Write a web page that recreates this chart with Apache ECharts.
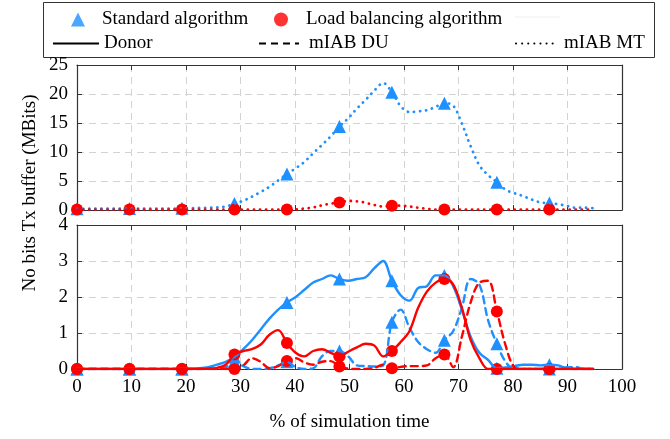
<!DOCTYPE html>
<html>
<head>
<meta charset="utf-8">
<script src="https://cdn.jsdelivr.net/npm/echarts@6/dist/echarts.min.js"></script>
<style>html,body{margin:0;padding:0;background:#fff}#c{width:670px;height:439px}</style>
</head>
<body>
<div id="c"></div>
<script>
// x positions (% of simulation time) of the samples
const xs = [0.00,1.61,3.21,4.82,6.42,8.03,9.63,11.24,12.84,14.45,16.05,17.66,19.26,20.87,22.47,24.08,25.68,27.29,28.89,30.50,
  32.10,33.71,35.31,36.92,38.52,40.13,41.73,43.34,44.94,46.55,48.15,49.76,51.36,52.97,54.57,56.18,57.78,59.39,60.99,62.60,
  64.20,65.81,67.41,69.02,70.62,72.23,73.83,75.44,77.04,78.65,80.25,81.86,83.46,85.07,86.67,88.28,89.88,91.49,93.09,94.70];

// Top panel: mIAB MT buffer (MBits)
const stdMT = [0.2,0.2,0.25,0.25,0.25,0.25,0.25,0.25,0.25,0.25,0.25,0.25,0.3,0.3,0.35,0.4,0.45,0.6,1.1,1.6,
  2.3,3.1,4.0,5.1,6.2,7.2,8.3,9.8,11.2,12.7,14.4,15.8,17.5,19.0,20.6,21.9,20.3,17.9,16.9,17.0,
  17.2,17.8,18.4,18.0,14.9,11.0,7.7,6.0,4.8,3.5,2.9,2.4,1.8,1.3,1.2,1.0,0.7,0.4,0.4,0.3];
const lbMT = [0.08,0.08,0.08,0.08,0.08,0.08,0.08,0.08,0.08,0.08,0.08,0.08,0.08,0.08,0.08,0.08,0.08,0.08,0.08,0.08,
  0.08,0.08,0.08,0.08,0.08,0.1,0.25,0.45,0.8,1.1,1.3,1.55,1.5,1.25,0.85,0.6,0.75,0.75,0.6,0.4,
  0.2,0.08,0.08,0.08,0.08,0.08,0.08,0.08,0.08,0.08,0.08,0.08,0.08,0.08,0.08,0.08,0.08,0.08,0.08,0.08];

// Bottom panel: Donor and mIAB DU buffers (MBits)
const stdDonor = [0,0,0,0,0,0,0,0,0,0,0,0,0,0.01,0.02,0.05,0.12,0.2,0.33,0.55,
  0.8,1.1,1.4,1.65,1.85,2.0,2.2,2.4,2.5,2.6,2.5,2.45,2.5,2.55,2.8,3.0,2.45,2.05,1.9,2.25,
  2.3,2.6,2.6,2.3,1.65,0.9,0.45,0.25,0.02,0.04,0.08,0.12,0.12,0.1,0.12,0.1,0.02,0,0,0];
const stdDU = [0,0,0,0,0,0,0,0,0,0,0,0,0,0,0,0,0,0.05,0.2,0.08,
  0,0,0.02,0.1,0.2,0.05,0,0.02,0.35,0.5,0.5,0.35,0.1,0.08,0.07,0.1,1.3,1.65,1.15,0.75,
  0.55,0.45,0.8,1.05,1.7,2.5,2.35,1.35,0.7,0.2,0,0,0,0,0,0,0.05,0.05,0,0];
const lbDonor = [0,0,0,0,0,0,0,0,0,0,0,0,0,0,0,0.01,0.03,0.12,0.4,0.5,
  0.55,0.68,0.95,1.08,0.72,0.45,0.35,0.5,0.55,0.45,0.35,0.48,0.6,0.7,0.65,0.35,0.5,0.75,1.05,1.7,
  2.15,2.4,2.5,2.35,1.7,0.8,0.3,0,0,0,0,0,0,0,0,0,0,0,0,0];
const lbDU = [0,0,0,0,0,0,0,0,0,0,0,0,0,0,0,0,0,0,0,0.1,
  0.3,0.2,0.02,0.08,0.22,0.3,0.18,0.12,0.2,0.22,0.07,0.01,0,0,0.03,0.12,0.02,0.06,0.08,0.08,
  0.1,0.3,0.4,0.05,0.9,1.85,2.4,2.45,1.6,0.65,0.05,0,0,0,0,0,0,0,0,0];

const xTicks = [0,10,20,30,40,50,60,70,80,90,100];
const yTopTicks = [0,5,10,15,20,25];
const yBottomTicks = [0,1,2,3,4];
const MARK_EVERY = 6;

const legendNames = ['Standard algorithm','Load balancing algorithm','Donor','mIAB DU','mIAB MT'];
const xName = '% of simulation time';
const yName = 'No bits Tx buffer (MBits)';

const BLUE = '#1E90FF', RED = '#FF0000';
const FONT = 'Liberation Serif';
const FS = 19;

const pairs = arr => xs.map((x, i) => [x, arr[i]]);
const marks = arr => xs.map((x, i) => [x, arr[i]]).filter((_, i) => i % MARK_EVERY === 0);

const chart = echarts.init(document.getElementById('c'), null, {renderer: 'canvas'});

const gridLine = {show: true, lineStyle: {color: '#d3d3d3', type: [7, 5], width: 1}};
const frame = {show: true, onZero: false, lineStyle: {color: '#333', width: 1.2}};
const tick = {show: true, inside: true, length: 5, lineStyle: {color: '#333'}};
const lbl = {color: '#000', fontFamily: FONT, fontSize: FS};

function xAx(grid, pos, labels) {
  return {type: 'value', gridIndex: grid, position: pos, min: xTicks[0], max: xTicks[xTicks.length-1],
    interval: xTicks[1]-xTicks[0], axisLine: frame, axisTick: tick,
    axisLabel: labels ? Object.assign({margin: 9}, lbl) : {show: false},
    splitLine: pos === 'bottom' ? gridLine : {show: false},
    name: labels ? xName : '', nameLocation: 'middle', nameGap: 44,
    nameTextStyle: {color: '#000', fontFamily: FONT, fontSize: FS}};
}
function yAx(grid, pos, ticks) {
  return {type: 'value', gridIndex: grid, position: pos, min: ticks[0], max: ticks[ticks.length-1],
    interval: ticks[1]-ticks[0], axisLine: frame, axisTick: tick,
    axisLabel: pos === 'left' ? Object.assign({margin: 9}, lbl) : {show: false},
    splitLine: pos === 'left' ? gridLine : {show: false}};
}

function lineS(name, data, color, type, xi, yi, width) {
  return {name: name, type: 'line', xAxisIndex: xi, yAxisIndex: yi, data: pairs(data), showSymbol: false,
    smooth: 0.35, lineStyle: {color: color, type: type, width: width || 2.4, cap: 'round'}, itemStyle: {color: color},
    silent: true, animation: false};
}
function markS(name, data, color, sym, xi, yi) {
  return {name: name, type: 'scatter', xAxisIndex: xi, yAxisIndex: yi, data: marks(data), symbol: sym,
    symbolSize: sym === 'triangle' ? 13 : 12, itemStyle: {color: color, opacity: 1}, silent: true, animation: false};
}

const DOT = [0.1, 6];
const DASH = [7, 5];

const series = [
  // legend-only entries
  {name: legendNames[0], type: 'scatter', xAxisIndex: 0, yAxisIndex: 0, data: [], symbol: 'triangle', itemStyle: {color: BLUE}},
  {name: legendNames[1], type: 'scatter', xAxisIndex: 0, yAxisIndex: 0, data: [], symbol: 'circle', itemStyle: {color: RED}},
  {name: legendNames[2], type: 'line', xAxisIndex: 0, yAxisIndex: 0, data: [], symbol: 'none', showSymbol: false, itemStyle: {color: '#000'}, lineStyle: {color: '#000', width: 2.2}},
  {name: legendNames[3], type: 'line', xAxisIndex: 0, yAxisIndex: 0, data: [], symbol: 'none', showSymbol: false, itemStyle: {color: '#000'}, lineStyle: {color: '#000', width: 2.2, type: DASH}},
  {name: legendNames[4], type: 'line', xAxisIndex: 0, yAxisIndex: 0, data: [], symbol: 'none', showSymbol: false, itemStyle: {color: '#000'}, lineStyle: {color: '#000', width: 2.6, type: DOT, cap: 'round'}},
  // top panel
  lineS('stdMT', stdMT, BLUE, DOT, 0, 0, 2.8),
  markS('stdMTm', stdMT, BLUE, 'triangle', 0, 0),
  lineS('lbMT', lbMT, RED, DOT, 0, 0, 2.8),
  markS('lbMTm', lbMT, RED, 'circle', 0, 0),
  // bottom panel
  lineS('stdDonor', stdDonor, BLUE, 'solid', 2, 2),
  lineS('stdDU', stdDU, BLUE, DASH, 2, 2),
  markS('stdDonorm', stdDonor, BLUE, 'triangle', 2, 2),
  markS('stdDUm', stdDU, BLUE, 'triangle', 2, 2),
  lineS('lbDonor', lbDonor, RED, 'solid', 2, 2),
  lineS('lbDU', lbDU, RED, DASH, 2, 2),
  markS('lbDonorm', lbDonor, RED, 'circle', 2, 2),
  markS('lbDUm', lbDU, RED, 'circle', 2, 2)
];

function leg(name, left, top, w, h, pad, hideSym) {
  const l = {data: [name], left: left, top: top, itemWidth: w, itemHeight: h, selectedMode: false,
    textStyle: {color: '#000', fontFamily: FONT, fontSize: FS, padding: [0, 0, 0, pad]}};
  if (hideSym) l.itemStyle = {opacity: 0};
  return l;
}

chart.setOption({
  animation: false,
  backgroundColor: '#fff',
  grid: [
    {left: 77, right: 48, top: 65, height: 145},
    {left: 77, right: 48, top: 225, height: 144}
  ],
  xAxis: [xAx(0, 'bottom', false), xAx(0, 'top', false), xAx(1, 'bottom', true), xAx(1, 'top', false)],
  yAxis: [yAx(0, 'left', yTopTicks), yAx(0, 'right', yTopTicks), yAx(1, 'left', yBottomTicks), yAx(1, 'right', yBottomTicks)],
  legend: [
    leg(legendNames[0], 66, 5, 14, 14, 12, false),
    leg(legendNames[1], 269, 5, 14, 14, 13, false),
    leg(legendNames[2], 47, 29, 46, 14, 0, true),
    leg(legendNames[3], 253, 29, 40, 14, 5, true),
    leg(legendNames[4], 510, 29, 37, 14, 6, true)
  ],
  graphic: [
    {type: 'rect', shape: {x: 43.5, y: 2.5, width: 611, height: 55}, style: {fill: 'none', stroke: '#333', lineWidth: 1}, z: -1},
    {type: 'line', shape: {x1: 515, y1: 17, x2: 560, y2: 17}, style: {stroke: '#eeeeee', lineWidth: 1}},
    {type: 'text', x: 30, y: 193, rotation: Math.PI / 2,
      style: {text: yName, fill: '#000', font: FS + 'px "' + FONT + '"', textAlign: 'center', textVerticalAlign: 'middle'}}
  ],
  series: series
});
</script>
</body>
</html>
